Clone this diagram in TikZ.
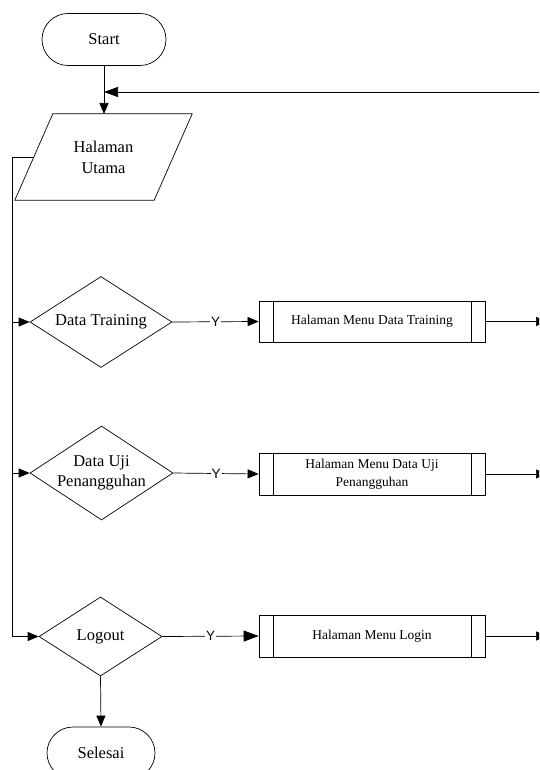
\documentclass[tikz,border=0pt]{standalone}
\usepackage{fontspec}
\setmainfont{Liberation Serif}
\newfontfamily\ysans{Liberation Sans}
\usetikzlibrary{shapes.geometric,arrows.meta,calc}
\begin{document}
\begin{tikzpicture}[x=1pt,y=-1pt,
 line/.style={draw=black,line width=0.7pt},
 arr/.style={line,-{Triangle[length=11pt,width=9pt]}},
 bigarr/.style={line,-{Triangle[length=15pt,width=11pt]}},
 term/.style={draw,line width=0.7pt,rounded corners=26pt,minimum height=52pt,inner sep=0pt,font=\fontsize{16.5}{20}\selectfont},
 decision/.style={draw,diamond,line width=0.7pt,inner sep=-6pt,shape aspect=1.5,align=center,font=\fontsize{16.5}{20}\selectfont},
 proc/.style={draw,rectangle,line width=0.7pt,minimum width=226pt,minimum height=41pt,inner sep=0pt,align=center,font=\fontsize{13.5}{18}\selectfont},
 ylab/.style={fill=white,inner sep=1pt,font=\ysans\fontsize{13.5}{13.5}\selectfont}
]
\useasboundingbox (0,0) rectangle (539,770);
\clip (0,0) rectangle (539,770);

% terminals
\node[term,minimum width=124pt] (start) at (104,39.5) {Start};
\node[term,minimum width=108pt] (end) at (101,753) {Selesai};

% parallelogram (input)
\node[align=center,minimum width=177pt,minimum height=86pt,inner sep=0pt,font=\fontsize{16.5}{21}\selectfont] (pu) at (103.5,157) {Halaman\\Utama};
\draw[line] ($(pu.north west)+(38,0)$) -- (pu.north east) -- ($(pu.south east)-(38,0)$) -- (pu.south west) -- cycle;
\coordinate (putop) at (104,114);
\coordinate (puleft) at (34,157);

% decisions
\node[decision,minimum width=142pt,minimum height=91pt] (d1) at (101,322) {Data Training};
\node[decision,minimum width=143pt,minimum height=94pt] (d2) at (101.5,473) {Data Uji\\Penangguhan};
\node[decision,minimum width=123pt,minimum height=79pt] (d3) at (100.5,636.5) {Logout};

% processes
\node[proc] (b1) at (372,321.5) {Halaman Menu Data Training};
\node[proc,minimum height=42pt] (b2) at (372,474) {Halaman Menu Data Uji\\Penangguhan};
\node[proc,minimum height=42pt] (b3) at (372,636) {Halaman Menu Login};
\foreach \b in {b1,b2,b3}{
  \draw[line] ([xshift=15pt]\b.north west) -- ([xshift=15pt]\b.south west);
  \draw[line] ([xshift=-14pt]\b.north east) -- ([xshift=-14pt]\b.south east);
}

% connectors
\coordinate (ret) at (104,92);
\coordinate (retin) at (545,92);
\draw[arr] (start.south) -- (putop);
\draw[line,-{Triangle[length=14pt,width=10pt]}] (retin) -- (ret);

\coordinate (lt) at (12,157);
\coordinate (lb) at (12,636.5);
\draw[line] (puleft) -- (lt) -- (lb);
\draw[arr] (12,322) -- (d1.west);
\draw[arr] (12,473) -- (d2.west);
\draw[arr] (lb) -- (d3.west);

\draw[arr] (d1.east) -- node[ylab]{Y} (b1.west);
\draw[arr] (d2.east) -- node[ylab]{Y} (b2.west);
\draw[bigarr] (d3.east) -- node[ylab]{Y} (b3.west);

\coordinate (o1) at (547,321.5);
\coordinate (o2) at (547,474);
\coordinate (o3) at (547,636);
\draw[arr] (b1.east) -- (o1);
\draw[arr] (b2.east) -- (o2);
\draw[arr] (b3.east) -- (o3);

\draw[arr] (d3.south) -- (end.north);
\end{tikzpicture}
\end{document}
